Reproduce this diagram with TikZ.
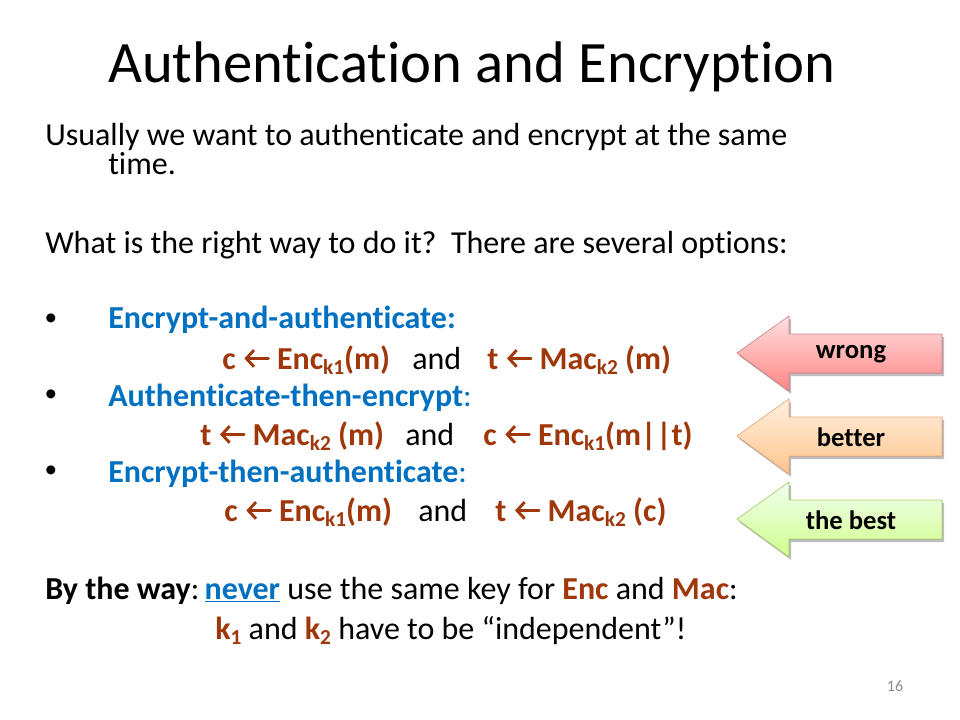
\documentclass[tikz,border=0pt]{standalone}
\usepackage{fontspec}
\setmainfont{Carlito}[Ligatures={TeX,NoCommon}]
\usetikzlibrary{arrows.meta}

\definecolor{optblue}{RGB}{0,112,192}
\definecolor{keybrown}{RGB}{160,55,10}
\definecolor{wrongline}{RGB}{222,128,140}
\definecolor{betterline}{RGB}{242,168,118}
\definecolor{bestline}{RGB}{172,212,108}

\newcommand{\larr}{\tikz[baseline=0pt]\draw[keybrown, line width=0.09em, line cap=round, {Straight Barb[length=0.24em,width=0.52em]}-] (0.03em,0.33em) -- (0.78em,0.33em);}
\newcommand{\idx}[1]{\raisebox{-0.35ex}{\fontsize{16}{16}\selectfont #1}}

\tikzset{
  body/.style={anchor=base west, inner sep=0pt, font=\fontsize{24}{28}\selectfont},
  option/.style={body, text=optblue, font=\fontsize{24}{28}\selectfont\bfseries},
  formula/.style={body, text=keybrown, font=\fontsize{24}{28}\selectfont\bfseries},
  dot/.style={inner sep=0pt, font=\fontsize{19}{22}\selectfont},
  tag/.style={inner sep=0pt, font=\fontsize{20}{22}\selectfont\bfseries},
}

\begin{document}
\begin{tikzpicture}[x=0.75pt,y=-0.75pt]
\useasboundingbox (0,0) rectangle (960,720);

% Draw the title
\node[anchor=base, inner sep=0pt, font=\fontsize{44}{50}\selectfont] (title) at (472,83) {Authentication and Encryption};

% Draw the text
\node[body] (usually) at (45,146) {Usually we want to authenticate and encrypt at the same};
\node[body] (time) at (108,175) {time.};
\node[body] (question) at (45,254) {What is the right way to do it?\ \ There are several options:};

% Draw the options
\node[dot] (dot1) at (51,320) {\textbullet};
\node[option] (ea) at (108,329) {Encrypt-and-authenticate:};
\node[formula] (ea1) at (222,369) {c \larr\ Enc\idx{k1}(m)};
\node[body] (ea2) at (412,369) {and};
\node[formula] (ea3) at (487,369) {t \larr\ Mac\idx{k2} (m)};

\node[dot] (dot2) at (51,396) {\textbullet};
\node[option] (ae) at (108,406) {Authenticate-then-encrypt\textmd{:}};
\node[formula] (ae1) at (200,445) {t \larr\ Mac\idx{k2} (m)};
\node[body] (ae2) at (405,445) {and};
\node[formula] (ae3) at (483,445) {c \larr\ Enc\idx{k1}(m||t)};

\node[dot] (dot3) at (51,472) {\textbullet};
\node[option] (et) at (108,482) {Encrypt-then-authenticate\textmd{:}};
\node[formula] (et1) at (224,521) {c \larr\ Enc\idx{k1}(m)};
\node[body] (et2) at (418,521) {and};
\node[formula] (et3) at (495,521) {t \larr\ Mac\idx{k2} (c)};

% Draw the remark
\node[body] (remark) at (45,599) {\textbf{By the way}:\,\textcolor{optblue}{\textbf{\underline{never}}} use the same key for \textcolor{keybrown}{\textbf{Enc}} and \textcolor{keybrown}{\textbf{Mac}}:};
\node[body] (keys) at (215,639) {\textcolor{keybrown}{\textbf{k\idx{1}}} and \textcolor{keybrown}{\textbf{k\idx{2}}} have to be ``independent''!};

% Draw the arrows
\fill[black!25] (944,337) -- (791,337) -- (791,319) -- (739,356) -- (791,394) -- (791,376) -- (944,376) -- cycle;
\filldraw[draw=wrongline, top color=red!12, bottom color=red!48] (942,334) -- (789,334) -- (789,316) -- (737,353) -- (789,391) -- (789,373) -- (942,373) -- cycle;
\fill[black!25] (944,420) -- (791,420) -- (791,402) -- (739,439) -- (791,477) -- (791,459) -- (944,459) -- cycle;
\filldraw[draw=betterline, top color=orange!12, bottom color=orange!45] (942,417) -- (789,417) -- (789,399) -- (737,436) -- (789,474) -- (789,456) -- (942,456) -- cycle;
\fill[black!25] (944,503) -- (791,503) -- (791,485) -- (739,522) -- (791,560) -- (791,542) -- (944,542) -- cycle;
\filldraw[draw=bestline, top color=green!6, bottom color=green!40!yellow!45] (942,500) -- (789,500) -- (789,482) -- (737,519) -- (789,557) -- (789,539) -- (942,539) -- cycle;

% Draw the labels
\node[tag] (wrong) at (851,354) {wrong};
\node[tag] (better) at (851,437) {better};
\node[tag] (best) at (851,520) {the best};

% Draw the page number
\node[inner sep=0pt, text=black!45, font=\fontsize{12}{13}\selectfont] (page) at (895,686) {16};

\end{tikzpicture}
\end{document}
